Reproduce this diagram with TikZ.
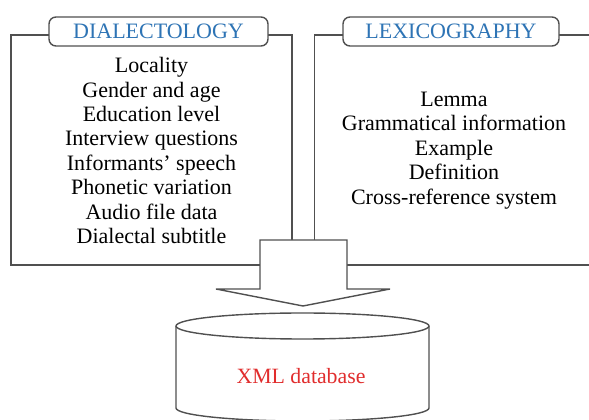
\documentclass[tikz,border=0pt]{standalone}
\usepackage{fontspec}
\setmainfont{Liberation Serif}
\definecolor{labelblue}{RGB}{46,116,181}
\definecolor{dbred}{RGB}{225,45,45}
\definecolor{linegray}{RGB}{80,80,80}
\begin{document}
\begin{tikzpicture}[x=1pt,y=1pt,
  frame/.style={draw=linegray, line width=1.4pt, fill=white},
  panel/.style={frame, rectangle, inner sep=0pt},
  tab/.style={frame, rounded corners=7pt, inner sep=0pt, minimum height=29pt,
    text=labelblue, font=\fontsize{22}{26}\selectfont},
  body/.style={align=center, inner sep=0pt, font=\fontsize{22}{24.4}\selectfont},
]
\useasboundingbox (0,0) rectangle (589,420);
\clip (0,0) rectangle (589,420);
% panels
\node[panel, minimum width=281pt, minimum height=230pt] (dialbox) at (151.5,270) {};
\node[panel, minimum width=400pt, minimum height=230pt, anchor=west] (lexbox) at (314,270) {};
% tabs
\node[tab, minimum width=219pt] (dialtab) at (158.5,388.5) {DIALECTOLOGY};
\node[tab, minimum width=216pt] (lextab) at (451,388.5) {LEXICOGRAPHY};
% texts
\node[body] (dialtext) at (151.5,269.5) {Locality\\Gender and age\\Education level\\Interview questions\\Informants’ speech\\Phonetic variation\\Audio file data\\Dialectal subtitle};
\node[body] (lextext) at (454,269.5) {Lemma\\Grammatical information\\Example\\Definition\\Cross-reference system};
% block arrow
\draw[frame, line join=miter] (260,180) -- (347,180) -- (347,131) -- (390,131)
  -- (303,114) -- (216,131) -- (260,131) -- cycle;
% database cylinder
\draw[frame] (176,94) -- (176,12) arc[start angle=180, end angle=360, x radius=126.5pt, y radius=13pt]
  -- (429,94) arc[start angle=0, end angle=180, x radius=126.5pt, y radius=13pt] -- cycle;
\draw[draw=linegray, line width=1.4pt] (176,94) arc[start angle=180, end angle=360, x radius=126.5pt, y radius=13pt];
\node[text=dbred, font=\fontsize{21.8}{24}\selectfont, inner sep=0pt] (db) at (301,44) {XML database};
\end{tikzpicture}
\end{document}
